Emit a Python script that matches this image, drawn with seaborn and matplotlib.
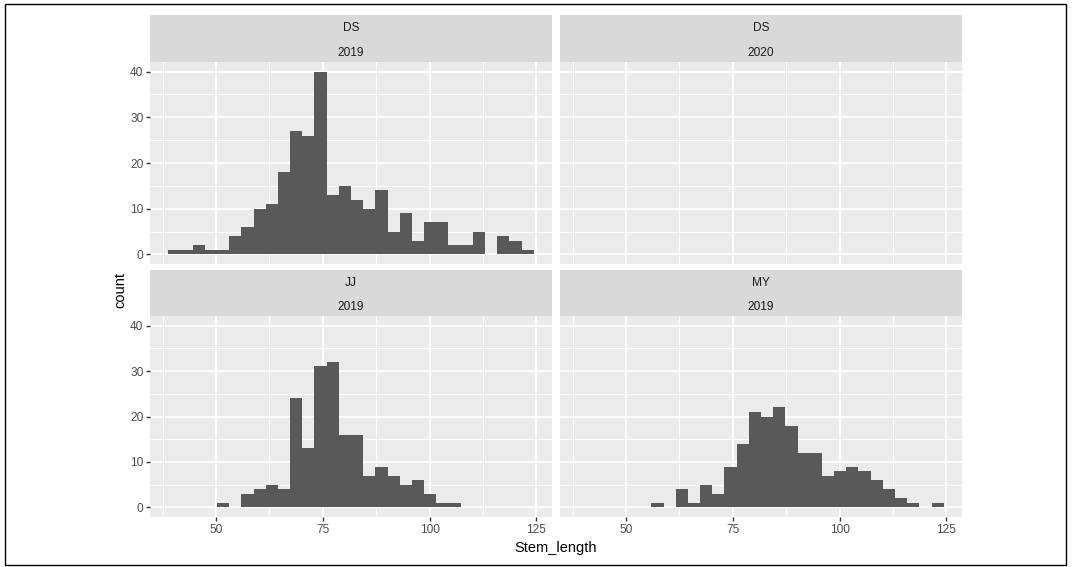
import numpy as np
import pandas as pd
import matplotlib
matplotlib.use("Agg")
import matplotlib.pyplot as plt
import seaborn as sns
from matplotlib.patches import Rectangle
from matplotlib.ticker import FixedLocator

# ---------------- data ----------------
sites = ["DS", "DS", "JJ", "MY"]
years = ["2019", "2020", "2019", "2019"]
bin_start = 38.77
bin_width = 2.855
n_bins = 30
ds2019 = [1, 1, 2, 1, 1, 4, 6, 10, 11, 18, 27, 26, 40, 13, 15, 12, 10, 14, 5, 9, 3, 7, 7, 2, 2, 5, 0, 4, 3, 1]
ds2020 = [0] * 30
jj2019 = [0, 0, 0, 0, 1, 0, 3, 4, 5, 4, 24, 13, 31, 32, 16, 16, 7, 9, 7, 5, 6, 3, 1, 1, 0, 0, 0, 0, 0, 0]
my2019 = [0, 0, 0, 0, 0, 0, 1, 0, 4, 1, 5, 3, 9, 14, 21, 20, 22, 18, 12, 12, 7, 8, 9, 8, 6, 4, 2, 1, 0, 1]
x_ticks = [50, 75, 100, 125]
y_ticks = [0, 10, 20, 30, 40]
series = [ds2019, ds2020, jj2019, my2019]

edges = bin_start + bin_width * np.arange(n_bins + 1)
centers = edges[:-1] + bin_width / 2

# ---------------- style ----------------
sns.set_style("white")
plt.rcParams['font.family'] = ['Liberation Sans', 'DejaVu Sans']

W, H = 1074, 567
fig = plt.figure(figsize=(W / 100, H / 100), dpi=100)
fig.patch.set_facecolor("white")

def frac(x0, y0, x1, y1):
    return [x0 / W, 1 - y1 / H, (x1 - x0) / W, (y1 - y0) / H]

cols = [(150, 552), (560, 962)]
rows = [((15, 62), (62, 264)), ((270, 316), (316, 517))]

TXT = 8.6
for i in range(4):
    r, c = divmod(i, 2)
    (sy0, sy1), (py0, py1) = rows[r]
    x0, x1 = cols[c]
    # strip
    sax = fig.add_axes(frac(x0, sy0, x1, sy1))
    sax.set_facecolor("#D9D9D9")
    sax.set_xticks([]); sax.set_yticks([])
    for s in sax.spines.values():
        s.set_visible(False)
    sax.text(0.5, 0.72, sites[i], ha="center", va="center", fontsize=TXT,
             color="#1A1A1A", transform=sax.transAxes)
    sax.text(0.5, 0.20, years[i], ha="center", va="center", fontsize=TXT,
             color="#1A1A1A", transform=sax.transAxes)

    # panel
    ax = fig.add_axes(frac(x0, py0, x1, py1))
    ax.set_facecolor("#EBEBEB")
    df = pd.DataFrame({"x": centers, "w": np.asarray(series[i], dtype=float)})
    sns.histplot(data=df, x="x", weights="w", bins=n_bins,
                 binrange=(float(edges[0]), float(edges[-1])), ax=ax,
                 color="#595959", alpha=1, linewidth=0, edgecolor="none", zorder=3)
    ax.set_xlim(34.5, 128.7)
    ax.set_ylim(-2.1, 42.1)
    ax.xaxis.set_major_locator(FixedLocator(x_ticks))
    ax.xaxis.set_minor_locator(FixedLocator([37.5, 62.5, 87.5, 112.5]))
    ax.yaxis.set_major_locator(FixedLocator(y_ticks))
    ax.yaxis.set_minor_locator(FixedLocator([5, 15, 25, 35]))
    ax.grid(which="major", color="white", linewidth=1.35, zorder=0)
    ax.grid(which="minor", color="white", linewidth=0.68, zorder=0)
    ax.set_axisbelow(True)
    for s in ax.spines.values():
        s.set_visible(False)
    ax.set_xlabel("")
    ax.set_ylabel("")
    ax.tick_params(which="minor", length=0)
    ax.tick_params(which="major", length=2.6, width=1.0, color="#333333",
                   labelsize=TXT, labelcolor="#4D4D4D", pad=2.1)
    if r == 0:
        ax.tick_params(axis="x", which="major", bottom=False, labelbottom=False)
    else:
        ax.tick_params(axis="x", which="major", bottom=True, labelbottom=True)
    if c == 1:
        ax.tick_params(axis="y", which="major", left=False, labelleft=False)
    else:
        ax.tick_params(axis="y", which="major", left=True, labelleft=True)

fig.text(556 / W, 1 - 548 / H, "Stem_length", ha="center", va="center",
         fontsize=10.56, color="black")
fig.text(120.5 / W, 1 - 290 / H, "count", ha="center", va="center",
         fontsize=10.56, color="black", rotation=90)

fig.add_artist(Rectangle((5 / W, 1 - 565 / H), (1066 - 5) / W, (565 - 4) / H,
                         transform=fig.transFigure, fill=False, edgecolor="black",
                         linewidth=1.0))

fig.savefig("out.png", dpi=100)
